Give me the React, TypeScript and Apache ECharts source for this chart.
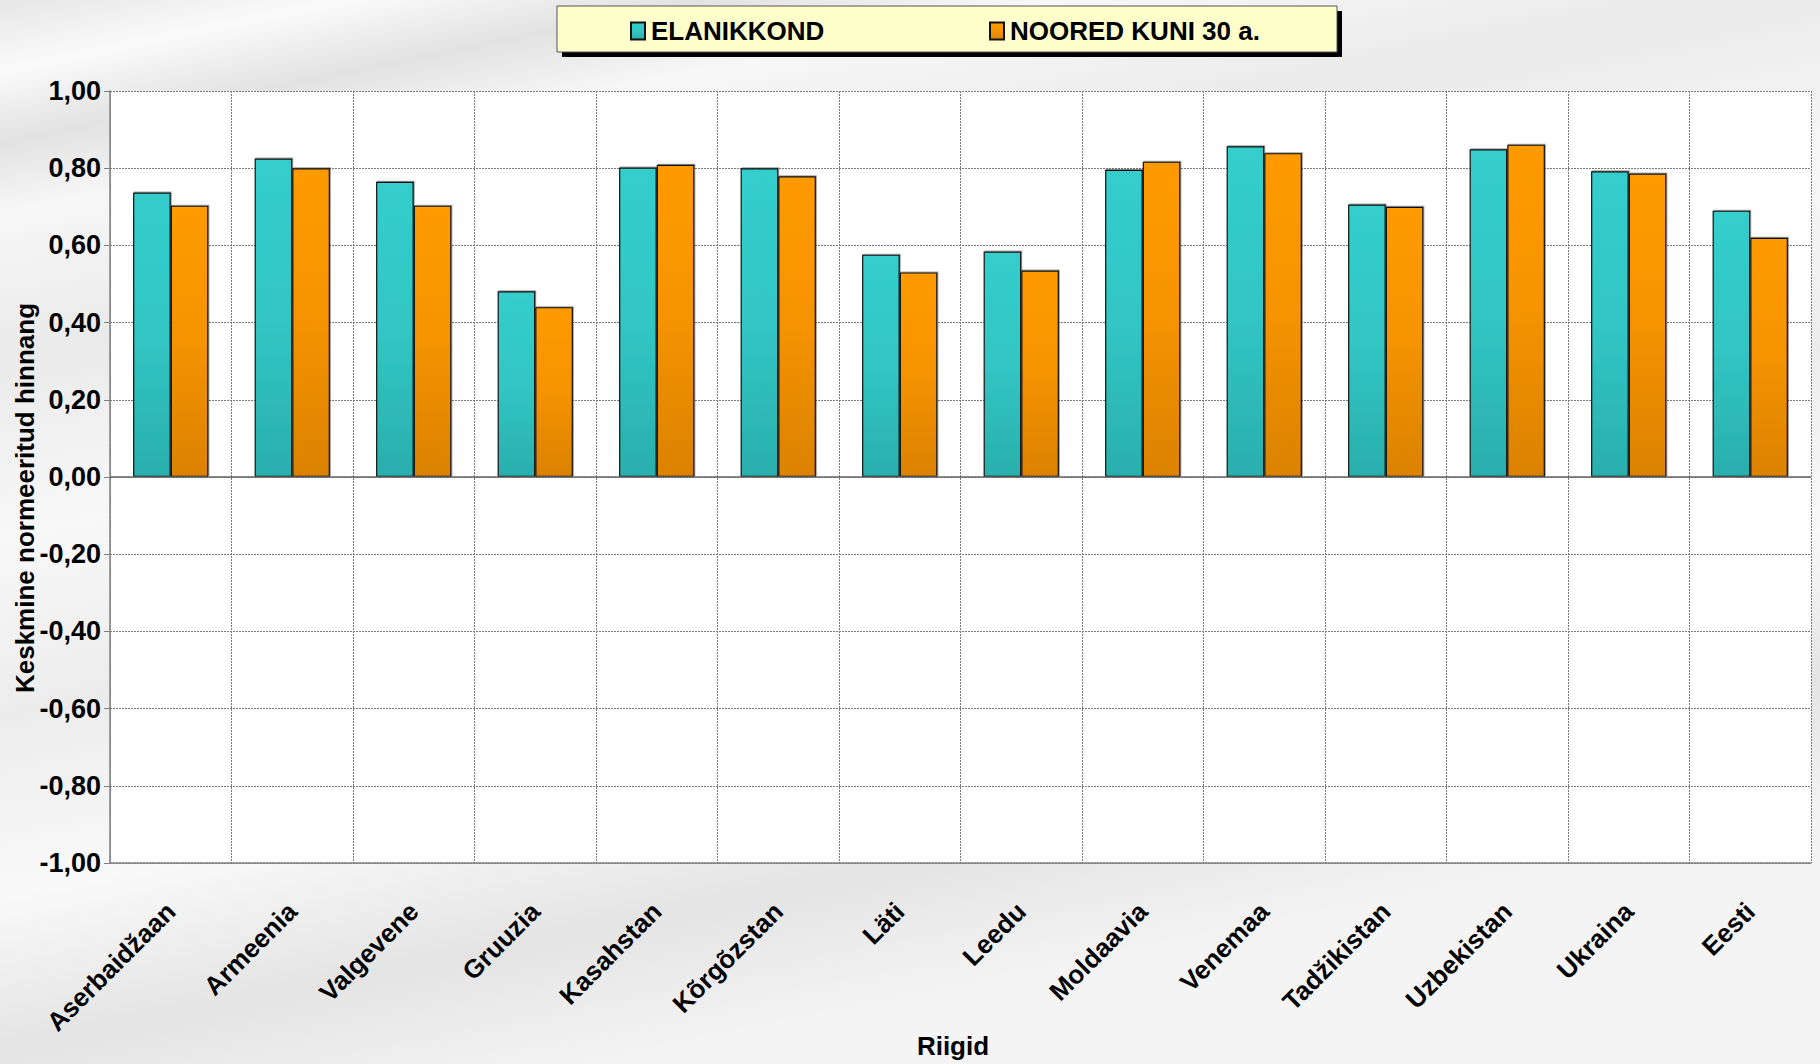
import React, { useEffect, useRef } from 'react';
import * as echarts from 'echarts';

const categories = [
  'Aserbaidžaan', 'Armeenia', 'Valgevene', 'Gruuzia', 'Kasahstan', 'Kõrgõzstan', 'Läti',
  'Leedu', 'Moldaavia', 'Venemaa', 'Tadžikistan', 'Uzbekistan', 'Ukraina', 'Eesti',
];
const elanikkond = [0.737, 0.825, 0.765, 0.481, 0.802, 0.8, 0.576, 0.584, 0.796, 0.857, 0.706, 0.849, 0.792, 0.69];
const noored = [0.703, 0.8, 0.703, 0.44, 0.809, 0.779, 0.53, 0.535, 0.817, 0.839, 0.7, 0.861, 0.786, 0.62];
const seriesNames = ['ELANIKKOND', 'NOORED KUNI 30 a.'];
const yAxisName = 'Keskmine normeeritud hinnang';
const xAxisName = 'Riigid';
const yMin = -1;
const yMax = 1;
const yStep = 0.2;

const FONT = '"Liberation Sans", Arial, sans-serif';

const tealGrad = () =>
  new echarts.graphic.LinearGradient(0, 0, 0, 1, [
    { offset: 0, color: '#34CECC' },
    { offset: 0.5, color: '#31C6C4' },
    { offset: 1, color: '#2AAFAD' },
  ]);
const orangeGrad = () =>
  new echarts.graphic.LinearGradient(0, 0, 0, 1, [
    { offset: 0, color: '#FF9A00' },
    { offset: 0.5, color: '#F59300' },
    { offset: 1, color: '#DB8200' },
  ]);

const fmt = (v: number) => {
  const x = Math.abs(v) < 1e-9 ? 0 : v;
  return x.toFixed(2).replace('.', ',');
};

export default function App() {
  const ref = useRef<HTMLDivElement>(null);

  useEffect(() => {
    if (!ref.current) return;
    const chart = echarts.init(ref.current, null, { renderer: 'svg' });
    const gridLine = { color: '#7a7a7a', type: [2, 1] as any, width: 1 };
    const legendText = { fontFamily: FONT, fontWeight: 'bold', fontSize: 26, color: '#000', padding: [2, 0, 0, 1] };
    const nameFont = `bold 26px ${FONT}`;
    chart.setOption({
      animation: false,
      backgroundColor: new echarts.graphic.LinearGradient(0, 0, 0.35, 1, [
        { offset: 0, color: '#e6e6e6' },
        { offset: 0.06, color: '#fafafa' },
        { offset: 0.12, color: '#e2e2e2' },
        { offset: 0.18, color: '#f7f7f7' },
        { offset: 0.3, color: '#eaeaea' },
        { offset: 0.45, color: '#f8f8f8' },
        { offset: 0.6, color: '#ececec' },
        { offset: 0.75, color: '#f9f9f9' },
        { offset: 0.88, color: '#e4e4e4' },
        { offset: 1, color: '#f4f4f4' },
      ]),
      textStyle: { fontFamily: FONT },
      graphic: [
        { type: 'rect', z: 0, shape: { x: 562, y: 11, width: 780, height: 46 }, style: { fill: '#000000' } },
        {
          type: 'rect',
          z: 1,
          shape: { x: 557, y: 6, width: 780, height: 46 },
          style: { fill: '#FFFFCC', stroke: '#555555', lineWidth: 1 },
        },
        {
          type: 'text',
          x: 25,
          y: 498,
          rotation: Math.PI / 2,
          z: 5,
          style: {
            text: yAxisName,
            font: nameFont,
            fill: '#000',
            textAlign: 'center',
            textVerticalAlign: 'middle',
            align: 'center',
            verticalAlign: 'middle',
          },
        },
        {
          type: 'text',
          x: 953,
          y: 1046,
          z: 5,
          style: {
            text: xAxisName,
            font: nameFont,
            fill: '#000',
            textAlign: 'center',
            textVerticalAlign: 'middle',
            align: 'center',
            verticalAlign: 'middle',
          },
        },
      ],
      legend: [
        {
          data: [seriesNames[0]],
          icon: 'rect',
          left: 630,
          top: 18,
          itemWidth: 14,
          itemHeight: 17,
          z: 10,
          padding: 0,
          textStyle: legendText,
        },
        {
          data: [seriesNames[1]],
          icon: 'rect',
          left: 989,
          top: 18,
          itemWidth: 14,
          itemHeight: 17,
          z: 10,
          padding: 0,
          textStyle: legendText,
        },
      ],
      grid: {
        left: 110,
        right: 9,
        top: 91,
        bottom: 201,
        containLabel: false,
        outerBoundsMode: 'none',
        show: true,
        backgroundColor: '#ffffff',
        borderWidth: 0,
      },
      xAxis: {
        type: 'category',
        data: categories,
        axisLine: { onZero: false, lineStyle: { color: '#808080', width: 1.5 } },
        axisTick: { show: false },
        axisLabel: {
          interval: 0,
          rotate: 45,
          margin: 44,
          fontFamily: FONT,
          fontWeight: 'bold',
          fontSize: 26,
          color: '#000',
        },
        splitLine: { show: true, interval: 0, lineStyle: gridLine },
      },
      yAxis: {
        type: 'value',
        min: yMin,
        max: yMax,
        interval: yStep,
        axisLine: { show: true, lineStyle: { color: '#808080', width: 1.5 } },
        axisTick: { show: true, length: 6, lineStyle: { color: '#808080' } },
        axisLabel: {
          formatter: fmt,
          margin: 9,
          fontFamily: FONT,
          fontWeight: 'bold',
          fontSize: 27,
          color: '#000',
        },
        splitLine: { show: true, lineStyle: gridLine },
      },
      series: [
        {
          name: seriesNames[0],
          type: 'bar',
          data: elanikkond,
          barGap: '0%',
          barCategoryGap: '38%',
          itemStyle: {
            color: tealGrad(),
            borderColor: '#111111',
            borderWidth: 1.2,
            shadowColor: 'rgba(0,0,0,0.35)',
            shadowOffsetX: 1,
            shadowOffsetY: -1,
            shadowBlur: 1,
          },
          markLine: {
            silent: true,
            symbol: 'none',
            label: { show: false },
            lineStyle: { color: '#666666', type: 'solid', width: 1.5 },
            data: [{ yAxis: 0 }],
          },
        },
        {
          name: seriesNames[1],
          type: 'bar',
          data: noored,
          barGap: '0%',
          barCategoryGap: '38%',
          itemStyle: {
            color: orangeGrad(),
            borderColor: '#111111',
            borderWidth: 1.2,
            shadowColor: 'rgba(0,0,0,0.35)',
            shadowOffsetX: 1,
            shadowOffsetY: -1,
            shadowBlur: 1,
          },
        },
      ],
    });
    return () => chart.dispose();
  }, []);

  return (
    <div
      ref={ref}
      style={{ position: 'fixed', left: 0, top: 0, width: 1820, height: 1064 }}
    />
  );
}
